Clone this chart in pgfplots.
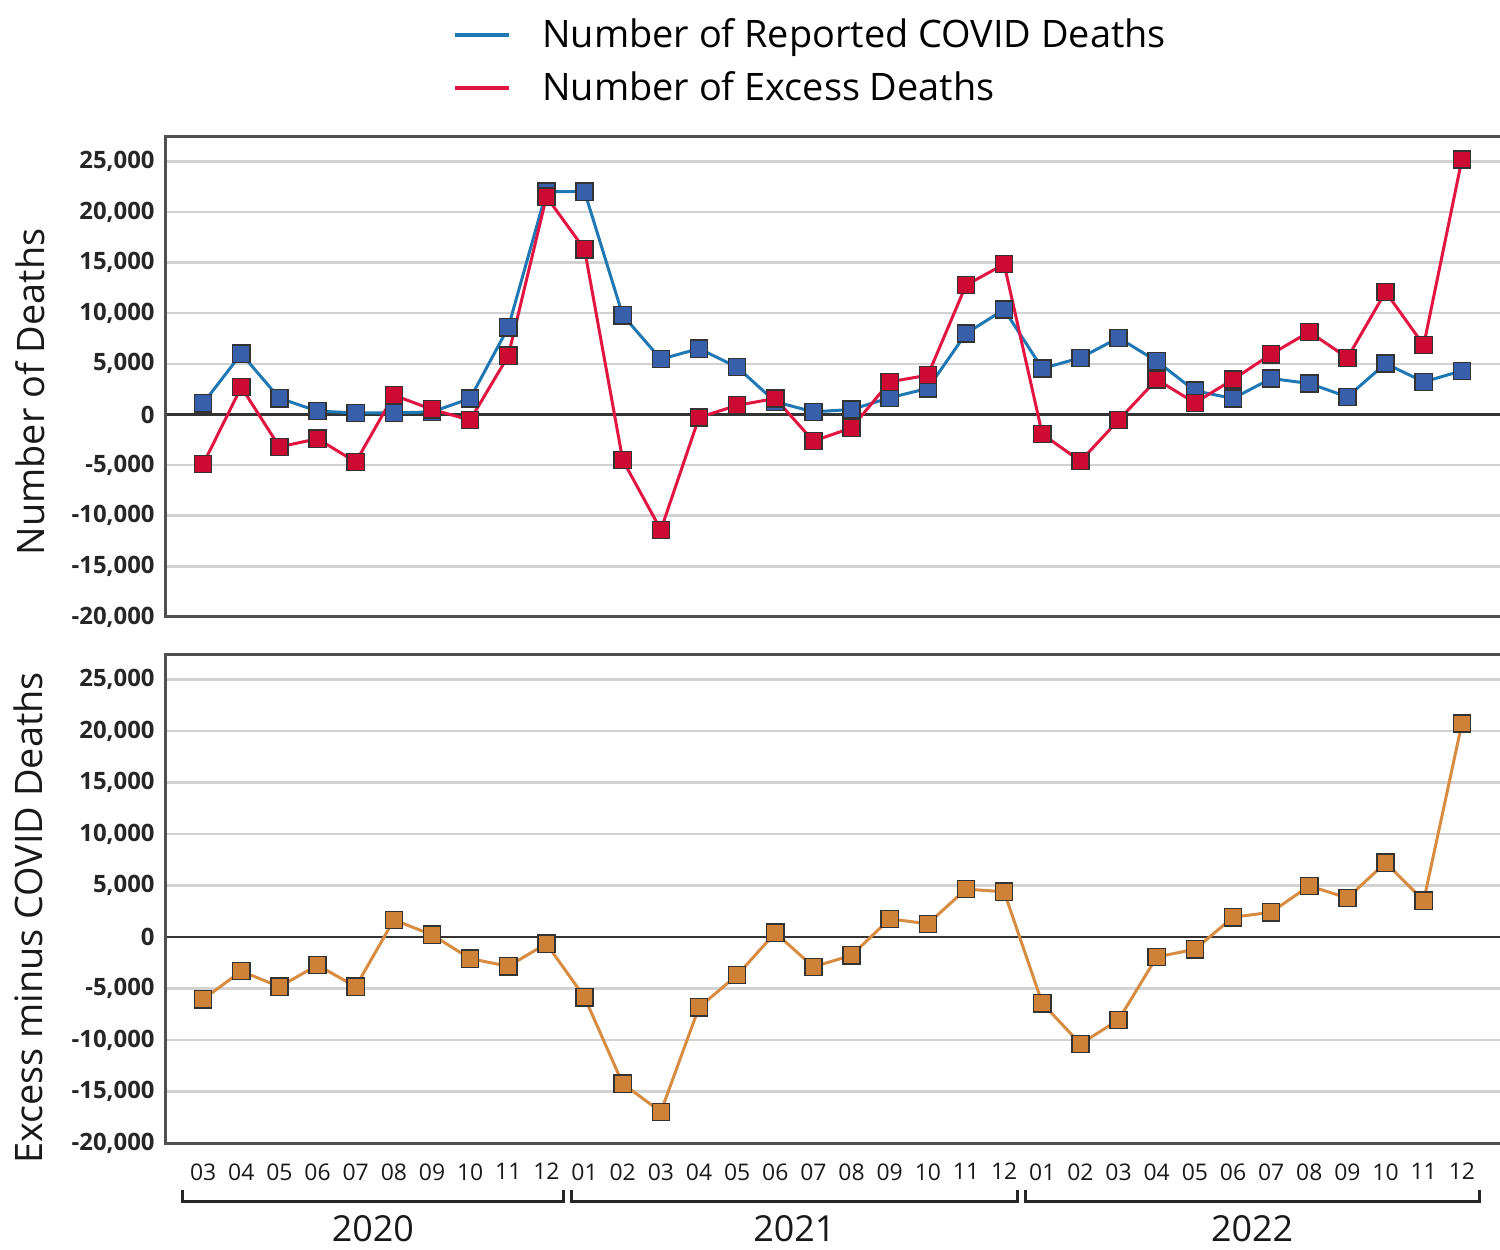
\documentclass[border=0pt]{standalone}
\usepackage{fontspec}
\setmainfont{Open Sans}
\usepackage{pgfplots}
\pgfplotsset{compat=1.18}
\usepackage{pgfplotstable}

\definecolor{bline}{RGB}{31,119,180}
\definecolor{bfill}{RGB}{55,95,170}
\definecolor{rline}{RGB}{226,20,65}
\definecolor{rfill}{RGB}{205,10,50}
\definecolor{oline}{RGB}{215,140,65}
\definecolor{ofill}{RGB}{205,130,55}
\definecolor{gridc}{RGB}{210,210,210}
\definecolor{framec}{RGB}{80,80,80}

\pgfplotstableread{
x covid excess diff
0 1100 -4900 -6040
1 6000 2700 -3310
2 1600 -3200 -4820
3 330 -2400 -2730
4 150 -4700 -4820
5 150 1900 1670
6 250 500 225
7 1580 -560 -2090
8 8600 5800 -2830
9 22000 21500 -640
10 22000 16300 -5850
11 9800 -4500 -14240
12 5460 -11400 -16970
13 6500 -300 -6820
14 4670 900 -3700
15 1250 1580 420
16 260 -2630 -2890
17 490 -1320 -1770
18 1650 3220 1770
19 2570 3880 1290
20 8000 12770 4660
21 10360 14840 4400
22 4540 -1940 -6430
23 5590 -4610 -10380
24 7570 -560 -8040
25 5260 3450 -1930
26 2340 1150 -1190
27 1580 3450 1930
28 3550 5950 2410
29 3060 8160 4980
30 1740 5590 3790
31 5030 12110 7230
32 3220 6840 3540
33 4310 25170 20740
}\data

\pgfplotsset{
  mystyle/.style={
    scale only axis, anchor=south west,
    width=667.5bp,
    xmin=-1, xmax=34,
    ymin=-20000, ymax=27400,
    ytick={-20000,-15000,...,25000},
    scaled y ticks=false,
    ymajorgrids,
    grid style={gridc, line width=1.3bp},
    extra y ticks={0}, extra y tick labels={},
    extra y tick style={grid style={black!80, line width=1.2bp}},
    axis line style={draw=none},
    tick style={draw=none},
    major tick length=0pt,
    clip=false,
    /pgf/number format/assume math mode=true,
    /pgf/number format/1000 sep={,},
    yticklabel style={font=\bfseries\fontsize{12}{12}\selectfont, text=black!85, inner sep=0pt, xshift=-5bp, anchor=east},
    every axis y label/.style={rotate=90, anchor=center, font=\fontsize{19}{19}\selectfont, text=black!90},
  }
}

\begin{document}
\begin{tikzpicture}
\path[use as bounding box] (0,0) rectangle (750bp,625bp);

\begin{axis}[mystyle,
  at={(82.5bp,316.5bp)}, height=240bp,
  xtick=\empty,
  ylabel={Number of Deaths},
  every axis y label/.append style={at={(axis description cs:-0.1011,0.469)}},
  legend style={at={(axis description cs:0.2157,1.158)}, anchor=west, draw=none, fill=none,
    inner sep=0pt, row sep=10.5bp, font=\fontsize{19}{19}\selectfont,
    nodes={inner sep=0pt}},
  legend cell align=left,
  legend image code/.code={\draw[#1, line width=2bp] (0bp,0bp) -- (27bp,0bp);},
  /tikz/every odd column/.append style={column sep=15.5bp},
]
\addplot[bline, line width=1.5bp, mark=square*, mark size=4.3bp,
  mark options={fill=bfill, draw=black!80, line width=0.7bp}] table[x=x, y=covid] {\data};
\addlegendentry{Number of Reported COVID Deaths}
\addplot[rline, line width=1.5bp, mark=square*, mark size=4.3bp,
  mark options={fill=rfill, draw=black!80, line width=0.7bp}] table[x=x, y=excess] {\data};
\addlegendentry{Number of Excess Deaths}
\draw[framec, line width=1.5bp] (rel axis cs:1,1) -- (rel axis cs:0,1) -- (rel axis cs:0,0) -- (rel axis cs:1,0);
\end{axis}

\begin{axis}[mystyle,
  at={(82.5bp,53.5bp)}, height=244bp,
  xtick={0,...,33},
  xticklabels={03,04,05,06,07,08,09,10,11,12,01,02,03,04,05,06,07,08,09,10,11,12,01,02,03,04,05,06,07,08,09,10,11,12},
  xticklabel style={font=\fontsize{11.5}{11.5}\selectfont, text=black!90, inner sep=0pt, anchor=north, yshift=-10bp},
  ylabel={Excess minus COVID Deaths},
  every axis y label/.append style={at={(axis description cs:-0.1026,0.461)}},
]
\addplot[oline, line width=1.5bp, mark=square*, mark size=4.3bp,
  mark options={fill=ofill, draw=black!80, line width=0.7bp}] table[x=x, y=diff] {\data};
\draw[framec, line width=1.5bp] (rel axis cs:1,1) -- (rel axis cs:0,1) -- (rel axis cs:0,0) -- (rel axis cs:1,0);
% year brackets
\draw[black!85, line width=1.5bp]
  ([yshift=-23.5bp]axis cs:-0.55,-20000) -- ([yshift=-29bp]axis cs:-0.55,-20000)
  -- ([yshift=-29bp]axis cs:9.45,-20000) -- ([yshift=-23.5bp]axis cs:9.45,-20000);
\draw[black!85, line width=1.5bp]
  ([yshift=-23.5bp]axis cs:9.65,-20000) -- ([yshift=-29bp]axis cs:9.65,-20000)
  -- ([yshift=-29bp]axis cs:21.35,-20000) -- ([yshift=-23.5bp]axis cs:21.35,-20000);
\draw[black!85, line width=1.5bp]
  ([yshift=-23.5bp]axis cs:21.55,-20000) -- ([yshift=-29bp]axis cs:21.55,-20000)
  -- ([yshift=-29bp]axis cs:33.45,-20000) -- ([yshift=-23.5bp]axis cs:33.45,-20000);
\node[font=\fontsize{18}{18}\selectfont, text=black!90, anchor=center, inner sep=0pt] at ([yshift=-43bp]axis cs:4.45,-20000) {2020};
\node[font=\fontsize{18}{18}\selectfont, text=black!90, anchor=center, inner sep=0pt] at ([yshift=-43bp]axis cs:15.5,-20000) {2021};
\node[font=\fontsize{18}{18}\selectfont, text=black!90, anchor=center, inner sep=0pt] at ([yshift=-43bp]axis cs:27.5,-20000) {2022};
\end{axis}
\end{tikzpicture}
\end{document}
